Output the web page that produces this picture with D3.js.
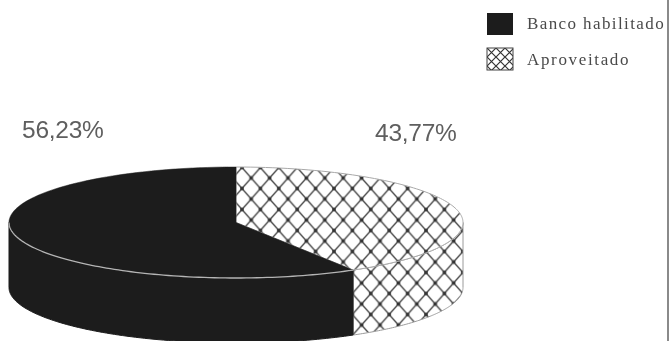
<!DOCTYPE html>
<html><head><meta charset="utf-8">
<script src="https://cdn.jsdelivr.net/npm/d3@7"></script>
<style>html,body{margin:0;padding:0;background:#fff;overflow:hidden}svg{display:block}</style>
</head><body><div id="c"></div>
<script>
const categories = ["Aproveitado", "Banco habilitado"];
const shares = [43.77, 56.23];
const labels = ["43,77%", "56,23%"];
const legendOrder = ["Banco habilitado", "Aproveitado"];

const W = 671, H = 341;
const cx = 236, cy = 222.5, rx = 227, ry = 55.5, depth = 65;
const black = "#1b1b1b";
const svg = d3.select("#c").append("svg").attr("width", W).attr("height", H);
const defs = svg.append("defs");
defs.append("filter").attr("id","soft").attr("x","-5%").attr("y","-5%").attr("width","110%").attr("height","110%")
  .append("feGaussianBlur").attr("stdDeviation",0.6);
const pat = defs.append("pattern").attr("id","hatch").attr("patternUnits","userSpaceOnUse")
  .attr("width",18.4).attr("height",21).attr("x",cx+6).attr("y",cy-55);
pat.append("rect").attr("width",18.4).attr("height",21).attr("fill","#fff");
pat.append("path").attr("d","M0,0L18.4,21M18.4,0L0,21")
  .attr("fill","none").attr("stroke","#333").attr("stroke-width",1.2);
[[0,0],[18.4,0],[0,21],[18.4,21],[9.2,10.5]].forEach(p =>
  pat.append("circle").attr("cx",p[0]).attr("cy",p[1]).attr("r",1.9).attr("fill","#333"));
const patS = defs.append("pattern").attr("id","hatchSmall").attr("patternUnits","userSpaceOnUse")
  .attr("width",9).attr("height",9).attr("x",487).attr("y",48);
patS.append("rect").attr("width",9).attr("height",9).attr("fill","#fff");
patS.append("path").attr("d","M0,0L9,9M9,0L0,9").attr("stroke","#333").attr("stroke-width",1.2);

const root = svg.append("g").attr("filter","url(#soft)");

// pie layout from the data, clockwise from the top, hatched slice first
const pie = d3.pie().sort(null).value(d => d);
const arcs = pie(shares);
// foreshortening of the tilted disc on screen
const tilt = a => a + 0.213 * Math.sin(2 * a);
const pt = (a, dy = 0) => [cx + rx * Math.sin(tilt(a)), cy - ry * Math.cos(tilt(a)) + dy];
const inv = s => { let a = s; for (let i = 0; i < 20; i++) a = s - 0.213 * Math.sin(2 * a); return a; };
const line = d3.line();
const sample = (a0, a1) => d3.range(0, 121).map(i => a0 + (a1 - a0) * i / 120);

const rimStart = inv(Math.PI / 2), rimEnd = inv(3 * Math.PI / 2);
const fills = ["url(#hatch)", black];

// side walls
arcs.forEach((d, i) => {
  const a0 = Math.max(d.startAngle, rimStart), a1 = Math.min(d.endAngle, rimEnd);
  const top = sample(a0, a1).map(a => pt(a));
  const bottom = sample(a1, a0).map(a => pt(a, depth));
  root.append("path").attr("d", line(top.concat(bottom)) + "Z")
    .attr("fill", fills[i]).attr("stroke", i ? black : "#9a9a9a").attr("stroke-width", 1);
});
// top faces
arcs.forEach((d, i) => {
  const edge = sample(d.startAngle, d.endAngle).map(a => pt(a));
  root.append("path").attr("d", line([[cx, cy]].concat(edge)) + "Z")
    .attr("fill", fills[i]).attr("stroke", i ? black : "#a8a8a8").attr("stroke-width", i ? 0.5 : 1);
});
// light seam along the front rim of the dark slice
root.append("path").attr("d", line(sample(arcs[1].startAngle, rimEnd).map(a => pt(a))))
  .attr("fill","none").attr("stroke","#b5b5b5").attr("stroke-width",1.3);

// value labels
root.append("text").attr("class","val").attr("x",22).attr("y",138).text(labels[1]);
root.append("text").attr("class","val").attr("x",375).attr("y",141).text(labels[0]);
root.selectAll("text.val").attr("font-family","'Liberation Sans',Arial,sans-serif")
  .attr("font-size",24.5).attr("letter-spacing",-0.25).attr("fill","#5e5e5e");

// legend
const legendY = d3.scalePoint().domain(legendOrder).range([13, 48]);
const swatch = {"Banco habilitado": black, "Aproveitado": "url(#hatchSmall)"};
legendOrder.forEach(name => {
  root.append("rect").attr("x",487).attr("y",legendY(name)).attr("width",26).attr("height",22)
    .attr("fill",swatch[name]).attr("stroke",name === "Aproveitado" ? "#444" : "none");
  root.append("text").attr("x",527).attr("y",legendY(name)+(name==="Aproveitado"?17:16)).text(name)
    .attr("font-family","'Liberation Serif',serif").attr("font-size",17)
    .attr("fill","#4a4a4a").attr("letter-spacing",name==="Aproveitado"?1.65:1.4);
});
// right border
root.append("line").attr("x1",668).attr("x2",668).attr("y1",-3).attr("y2",H+3)
  .attr("stroke","#8a8a8a").attr("stroke-width",2);
</script></body></html>
